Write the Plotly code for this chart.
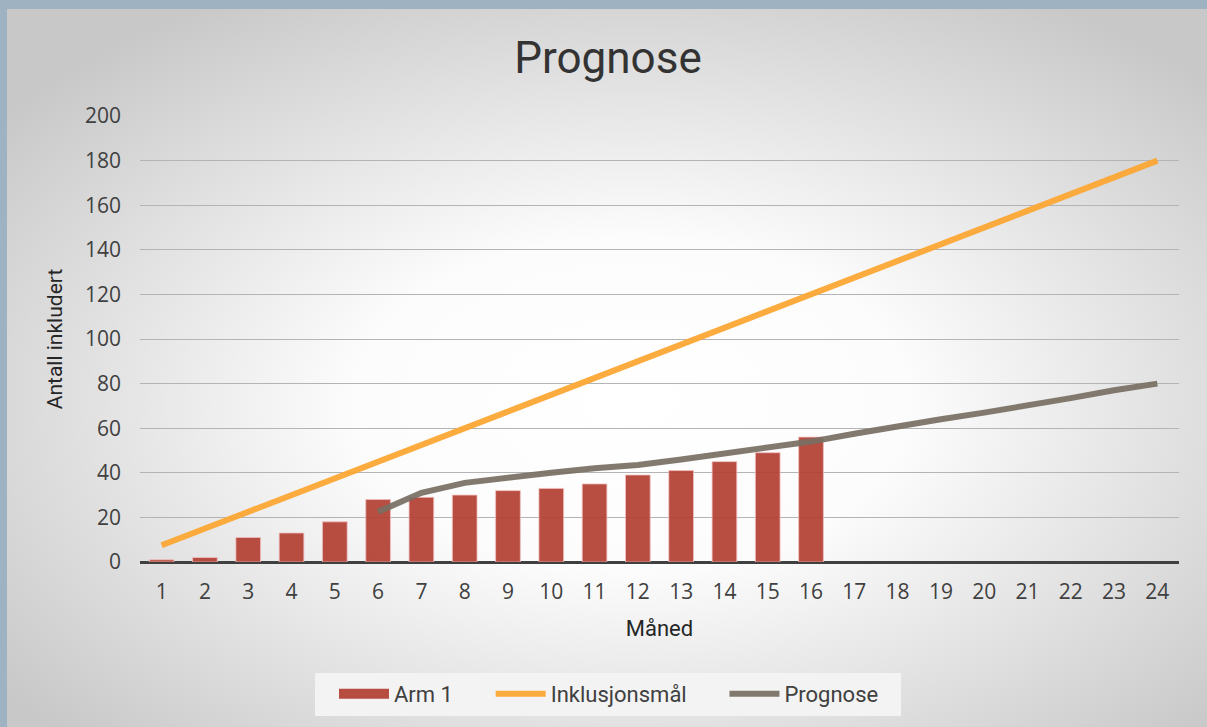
import plotly.graph_objects as go
import urllib.parse

months = [str(m) for m in range(1, 25)]
arm1 = [1, 2, 11, 13, 18, 28, 29, 30, 32, 33, 35, 39, 41, 45, 49, 56,
        None, None, None, None, None, None, None, None]
inklusjonsmaal = [7.5, 15, 22.5, 30, 37.5, 45, 52.5, 60, 67.5, 75, 82.5, 90,
                  97.5, 105, 112.5, 120, 127.5, 135, 142.5, 150, 157.5, 165, 172.5, 180]
prognose = [None, None, None, None, None, 22.5, 31, 35.5, 38, 40, 42, 43.5,
            46, 48.5, 51, 54, 57.5, 61, 64, 67, 70, 73.5, 77, 80]
y_ticks = [0, 20, 40, 60, 80, 100, 120, 140, 160, 180, 200]
series_names = ["Arm 1", "Inklusjonsmål", "Prognose"]

W, H = 1207, 727
ML, MR, MT, MB = 140, 28, 116, 165
PW, PH = W - ML - MR, H - MT - MB

narrow = "Liberation Sans Narrow, Arial Narrow, Roboto, sans-serif"
tickfont = "Open Sans, Noto Sans, sans-serif"
RED = "rgba(178,62,50,0.92)"
PAD = "\u00a0" * 6

svg = (
    "<svg xmlns='http://www.w3.org/2000/svg' width='1200' height='718' viewBox='0 0 1200 718' preserveAspectRatio='none'>"
    "<defs><radialGradient id='g' cx='52%' cy='55%' r='66%'>"
    "<stop offset='0%' stop-color='#ffffff'/>"
    "<stop offset='35%' stop-color='#fcfcfc'/>"
    "<stop offset='100%' stop-color='#c8c8c8'/>"
    "</radialGradient></defs>"
    "<rect width='1200' height='718' fill='url(#g)'/></svg>"
)
src = "data:image/svg+xml;charset=utf-8," + urllib.parse.quote(svg)

fig = go.Figure()
fig.add_trace(go.Bar(
    x=months, y=arm1, name=series_names[0], showlegend=False, legendgroup="arm1",
    marker=dict(color=RED, line=dict(color="rgba(240,190,190,0.8)", width=1)),
    width=0.57,
))
# legend swatch for the bar series (rectangle-like)
fig.add_trace(go.Scatter(
    x=[None], y=[None], name=series_names[0] + PAD, mode="lines", legendgroup="arm1",
    line=dict(color=RED, width=12),
))
fig.add_trace(go.Scatter(
    x=months, y=inklusjonsmaal, name=series_names[1] + PAD, mode="lines",
    line=dict(color="rgba(252,166,52,0.95)", width=6),
))
fig.add_trace(go.Scatter(
    x=months, y=prognose, name=series_names[2], mode="lines",
    line=dict(color="rgba(120,111,99,0.92)", width=6),
))

fig.add_layout_image(dict(
    source=src, xref="paper", yref="paper",
    x=(7 - ML) / PW, y=(H - MB - 9) / PH,
    sizex=(W - 7) / PW, sizey=(H - 9) / PH,
    xanchor="left", yanchor="top", sizing="stretch", layer="below",
))
# legend background box
fig.add_shape(type="rect", xref="paper", yref="paper",
              x0=(315 - ML) / PW, x1=(901 - ML) / PW,
              y0=-(716 - (H - MB)) / PH, y1=-(673 - (H - MB)) / PH,
              fillcolor="#f3f3f3", line=dict(width=0), layer="below")

fig.update_layout(
    width=W, height=H,
    margin=dict(l=ML, r=MR, t=MT, b=MB),
    paper_bgcolor="#9fb2c2",
    plot_bgcolor="rgba(0,0,0,0)",
    title=dict(text="Prognose", x=608 / W, xref="container", xanchor="center", y=1 - 58 / H, yanchor="middle",
               font=dict(family=narrow, size=44, color="#333333")),
    showlegend=True,
    legend=dict(orientation="h", x=(609 - ML) / PW, xanchor="center", y=-(694 - (H - MB)) / PH,
                yanchor="middle", bgcolor="rgba(0,0,0,0)", font=dict(family=narrow, size=22, color="#404040"),
                itemwidth=50, traceorder="normal"),
    bargap=0.43,
    xaxis=dict(type="category", range=[-0.5, 23.5], showgrid=False, ticks="",
               tickfont=dict(family=tickfont, size=21, color="#404040"), ticklabelstandoff=15,
               showline=False, zeroline=False,
               title=dict(text="Måned", font=dict(family=narrow, size=22, color="#262626"), standoff=16)),
    yaxis=dict(range=[0, 200], tickvals=y_ticks, showgrid=True, gridcolor="#b4b4b4", gridwidth=1,
               tickfont=dict(family=tickfont, size=21, color="#404040"), ticks="", ticklen=0,
               ticklabelstandoff=18,
               zeroline=True, zerolinecolor="#404040", zerolinewidth=3, showline=False,
               title=dict(text="Antall inkludert", font=dict(family=narrow, size=21, color="#262626"), standoff=16)),
)

fig.write_html("out.html", config={"displayModeBar": False},
               post_script="document.body.style.margin='0';document.body.style.overflow='hidden';")
